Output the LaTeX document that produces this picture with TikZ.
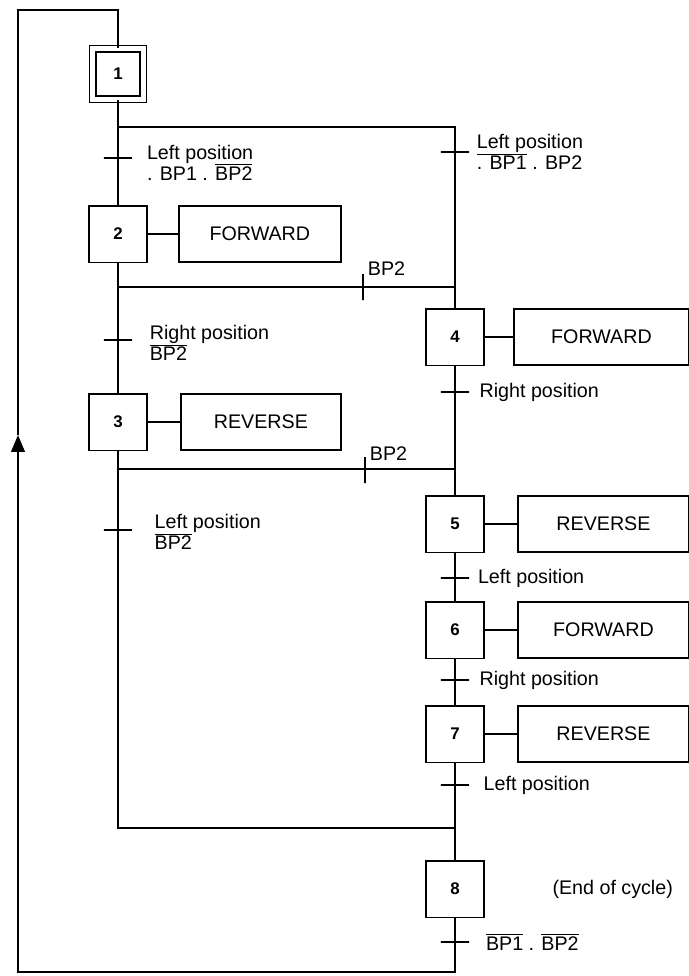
\documentclass[tikz,border=0pt]{standalone}
\usepackage{fontspec}
\setmainfont{Liberation Sans}
\usepackage{tikz}
\usetikzlibrary{arrows.meta, positioning}

\newcommand{\notsig}[1]{$\overline{\mbox{#1}}$}

\begin{document}
\begin{tikzpicture}[x=0.025cm, y=-0.025cm, line width=1.3pt,
        every node/.style={font=\fontsize{14}{15}\selectfont},
        stepbox/.style={rectangle, draw, minimum width=1.45cm, minimum height=1.42cm, inner sep=0pt, font=\fontsize{12}{14}\selectfont\bfseries},
        initstep/.style={stepbox, double, double distance=3pt, minimum width=1.27cm, minimum height=1.27cm},
        action/.style={rectangle, draw, minimum width=4.05cm, minimum height=1.38cm, inner sep=0pt},
        hbar/.style={draw, minimum width=0.7cm, minimum height=0pt, inner sep=0pt},
        vbar/.style={draw, minimum height=0.65cm, minimum width=0pt, inner sep=0pt},
        cond/.style={align=left, inner sep=0pt}]

        \useasboundingbox (0,0) rectangle (689,976);

        % steps
        \node (s1) [initstep] at (118,74) {1};
        \node (s2) [stepbox] at (118,234) {2};
        \node (s3) [stepbox] at (118,422) {3};
        \node (s4) [stepbox] at (455,337) {4};
        \node (s5) [stepbox] at (455,524) {5};
        \node (s6) [stepbox] at (455,630) {6};
        \node (s7) [stepbox] at (455,734) {7};
        \node (s8) [stepbox] at (455,889) {8};

        % actions
        \node (a2) [action, right=0.75cm of s2] {FORWARD};
        \node (a3) [action, minimum width=4cm, right=0.8cm of s3] {REVERSE};
        \node (a4) [action, minimum width=4.38cm, right=0.7cm of s4] {FORWARD};
        \node (a5) [action, minimum width=4.28cm, right=0.8cm of s5] {REVERSE};
        \node (a6) [action, minimum width=4.28cm, right=0.8cm of s6] {FORWARD};
        \node (a7) [action, minimum width=4.28cm, right=0.8cm of s7] {REVERSE};
        \node (e8) [right=1.55cm of s8] {(End of cycle)};

        % transitions
        \node (t1) [hbar] at (118,158) {};
        \node (t2) [hbar] at (455,152) {};
        \node (t3) [hbar] at (118,340) {};
        \node (t4) [vbar] at (363,287) {};
        \node (t5) [hbar] at (118,530) {};
        \node (t6) [vbar] at (365,470) {};
        \node (t7) [hbar] at (455,392) {};
        \node (t8) [hbar] at (455,578) {};
        \node (t9) [hbar] at (455,680) {};
        \node (t10) [hbar] at (455,785) {};
        \node (t11) [hbar] at (455,942) {};

        \node (c1) [cond, right=0.33cm of t1, yshift=-0.12cm] {Left position\\. BP1 . \notsig{BP2}};
        \node (c2) [cond, right=0.15cm of t2] {Left position\\\notsig{. BP1} . BP2};
        \node (c3) [cond, right=0.4cm of t3, yshift=-0.08cm] {Right position\\\notsig{BP2}};
        \node (c4) [anchor=west, inner sep=0pt, xshift=0.1cm, yshift=0.1cm] at (t4.north) {BP2};
        \node (c5) [cond, right=0.52cm of t5, yshift=-0.05cm] {Left position\\\notsig{BP2}};
        \node (c6) [anchor=west, inner sep=0pt, xshift=0.1cm, yshift=0.05cm] at (t6.north) {BP2};
        \node (c7) [cond, right=0.22cm of t7] {Right position};
        \node (c8) [cond, right=0.18cm of t8] {Left position};
        \node (c9) [cond, right=0.22cm of t9] {Right position};
        \node (c10) [cond, right=0.32cm of t10] {Left position};
        \node (c11) [cond, right=0.38cm of t11] {\notsig{BP1} . \notsig{BP2}};

        % junctions
        \coordinate (j1) at (455,127);
        \coordinate (j2) at (455,287);
        \coordinate (j3) at (455,469);
        \coordinate (j4) at (455,828);
        \coordinate (r1) at (18,972);
        \coordinate (r2) at (18,435);
        \coordinate (r3) at (18,10);

        \draw (s1) -- (s2);
        \draw (s1 |- j1) -- (j1) -- (s4);
        \draw (s2) -- (s3);
        \draw (s2 |- j2) -- (j2);
        \draw (s3) -- (s3 |- j4) -- (j4);
        \draw (s3 |- j3) -- (j3);
        \draw (s4) -- (s5);
        \draw (s5) -- (s6);
        \draw (s6) -- (s7);
        \draw (s7) -- (s8);
        \draw[-{Triangle[length=0.42cm, width=0.34cm]}] (s8) |- (r1) -- (r2);
        \draw (r2) -- (r3) -| (s1);

        \draw (s2) -- (a2);
        \draw (s3) -- (a3);
        \draw (s4) -- (a4);
        \draw (s5) -- (a5);
        \draw (s6) -- (a6);
        \draw (s7) -- (a7);
    \end{tikzpicture}
\end{document}
